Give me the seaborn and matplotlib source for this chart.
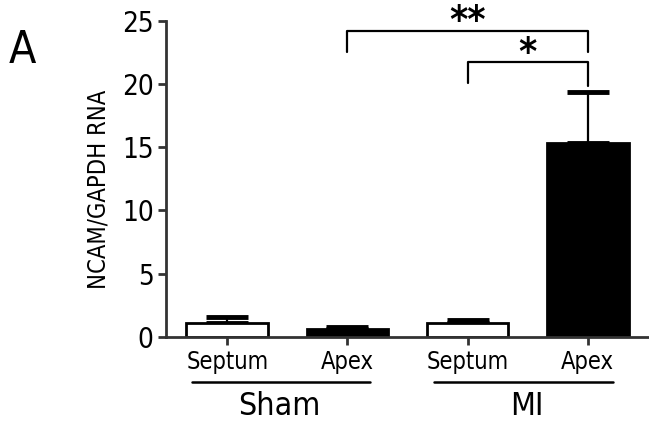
import pandas as pd
import matplotlib
matplotlib.use("Agg")
import matplotlib.pyplot as plt
import seaborn as sns
from matplotlib import font_manager

# Data
groups = ["Sham", "Sham", "MI", "MI"]
regions = ["Septum", "Apex", "Septum", "Apex"]
means = [1.08, 0.6, 1.08, 15.3]
errs = [0.52, 0.2, 0.27, 4.1]
bar_colors = ["white", "black", "white", "black"]
y_ticks = [0, 5, 10, 15, 20, 25]

df = pd.DataFrame({"group": groups, "region": regions, "ratio": means})
df["key"] = df["group"] + " " + df["region"]

sns.set_theme(style="ticks")

# narrow face if there is one
installed = {(f.name, f.stretch) for f in font_manager.fontManager.ttflist}
stretch = "normal"
if any(n == "DejaVu Sans" and s in ("condensed", 300, "semi-condensed") for n, s in installed):
    stretch = "condensed"
plt.rcParams["font.family"] = ["DejaVu Sans"]
plt.rcParams["font.stretch"] = stretch
plt.rcParams["text.color"] = "black"
plt.rcParams["axes.labelcolor"] = "black"
plt.rcParams["xtick.color"] = "black"
plt.rcParams["ytick.color"] = "black"

fig = plt.figure(figsize=(6.49, 4.23), dpi=100)
ax = fig.add_axes([0.2558, 0.2033, 0.7442, 0.7478])

sns.barplot(data=df, x="key", y="ratio", hue="key", palette=bar_colors,
            edgecolor="black", linewidth=2, width=0.68, legend=False, ax=ax,
            errorbar=None, zorder=2)

# upward-only error bars
eb = ax.errorbar(range(len(means)), means, yerr=[[0] * len(errs), errs], fmt="none",
                 ecolor="black", elinewidth=1.6, capsize=15, capthick=3.5, zorder=1)
for cap in eb[1]:
    cap.set_color("#555555")

ax.set_ylim(0, 25)
ax.set_xlim(-0.51, 3.51)
ax.set_yticks(y_ticks)
ax.set_yticklabels([str(t) for t in y_ticks], fontsize=20)
ax.set_xticks(range(4))
ax.set_xticklabels(regions, fontsize=17)
ax.set_xlabel("")
ax.set_ylabel("NCAM/GAPDH RNA", fontsize=17)
ax.yaxis.set_label_coords(-0.115, 0.468)
ax.tick_params(axis="both", direction="out", length=6, width=2, color="#333333", pad=3)
for side in ["left", "bottom"]:
    ax.spines[side].set_linewidth(2)
    ax.spines[side].set_color("#333333")
sns.despine(ax=ax)

# group underlines and labels
tr = ax.get_xaxis_transform()
ax.plot([-0.29, 1.19], [-0.142, -0.142], color="black", lw=1.8, transform=tr, clip_on=False)
ax.plot([1.72, 3.21], [-0.142, -0.142], color="black", lw=1.8, transform=tr, clip_on=False)
ax.text(0.43, -0.22, "Sham", transform=tr, ha="center", va="center", fontsize=23)
ax.text(2.49, -0.22, "MI", transform=tr, ha="center", va="center", fontsize=23)

# significance brackets
def bracket(x0, x1, y, y0, y1, label, ty):
    ax.plot([x0, x0, x1, x1], [y0, y, y, y1], color="black", lw=1.6, clip_on=False)
    ax.text((x0 + x1) / 2, ty, label, ha="center", va="center", fontsize=28,
            fontweight="bold", clip_on=False)

bracket(1, 3, 24.2, 22.5, 22.5, "**", 24.9)
bracket(2, 3, 21.7, 20.1, 19.8, "*", 22.4)

fig.text(0.035, 0.88, "A", fontsize=32, ha="center", va="center")

fig.savefig("out.png", dpi=100)
